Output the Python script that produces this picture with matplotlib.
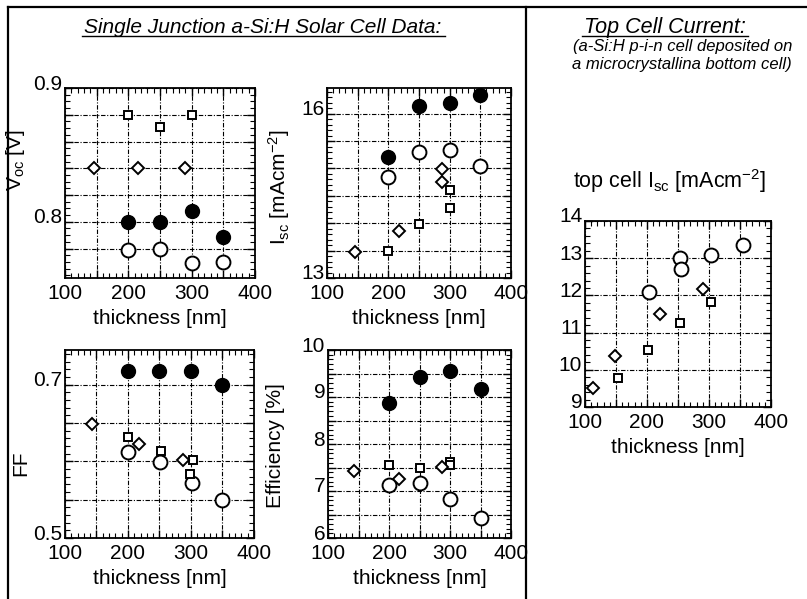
import numpy as np
import matplotlib
matplotlib.use("Agg")
import matplotlib.pyplot as plt
import matplotlib.transforms as mtransforms
from matplotlib.lines import Line2D
from matplotlib.ticker import FixedLocator, MultipleLocator

plt.rcParams['font.family'] = ['Liberation Sans', 'DejaVu Sans']
plt.rcParams['mathtext.default'] = 'regular'

# ---- data ----
x4 = [200, 250, 300, 350]

voc_filled = [0.800, 0.800, 0.808, 0.789]
voc_open = [0.779, 0.780, 0.769, 0.770]
voc_sq_x = [200, 250, 300]
voc_sq = [0.880, 0.871, 0.880]
voc_dia_x = [145, 215, 290]
voc_dia = [0.840, 0.840, 0.840]

isc_filled = [15.21, 16.15, 16.20, 16.35]
isc_open = [14.84, 15.31, 15.33, 15.04]
isc_sq_x = [200, 250, 300, 300]
isc_sq = [13.50, 13.98, 14.61, 14.28]
isc_dia_x = [145, 218, 288, 287]
isc_dia = [13.47, 13.85, 14.99, 14.75]

ff_filled = [0.718, 0.718, 0.718, 0.699]
ff_open_x = [200, 251, 301, 350]
ff_open = [0.6125, 0.599, 0.572, 0.549]
ff_sq_x = [200, 253, 303, 299]
ff_sq = [0.631, 0.613, 0.601, 0.584]
ff_dia_x = [143, 218, 288]
ff_dia = [0.648, 0.622, 0.601]

eff_filled = [8.87, 9.43, 9.56, 9.18]
eff_open = [7.13, 7.18, 6.83, 6.43]
eff_sq_x = [200, 250, 300, 300]
eff_sq = [7.55, 7.48, 7.62, 7.55]
eff_dia_x = [142, 216, 287]
eff_dia = [7.43, 7.26, 7.52]

top_open_x = [204, 254, 255, 304, 355]
top_open = [12.08, 13.00, 12.71, 13.09, 13.35]
top_dia_x = [113, 148, 221, 291]
top_dia = [9.52, 10.38, 11.51, 12.18]
top_sq_x = [153, 202, 254, 304]
top_sq = [9.78, 10.52, 11.27, 11.82]

W, H = 807, 599
fig = plt.figure(figsize=(W / 100, H / 100), dpi=100)


def box(l, t, r, b):
    # pixel box -> figure fraction
    return [l / W, 1 - b / H, (r - l) / W, (b - t) / H]


def setup(ax, ylim, yticks, ylabels, yminor):
    ax.set_xlim(100, 400)
    ax.set_ylim(*ylim)
    ax.xaxis.set_major_locator(FixedLocator([100, 150, 200, 250, 300, 350, 400]))
    ax.set_xticklabels(['100', '', '200', '', '300', '', '400'])
    ax.xaxis.set_minor_locator(MultipleLocator(10))
    ax.yaxis.set_major_locator(FixedLocator(yticks))
    ax.set_yticklabels(ylabels)
    ax.yaxis.set_minor_locator(MultipleLocator(yminor))
    ax.tick_params(which='both', direction='in', top=True, right=True,
                   labelsize=15, pad=2, width=1)
    ax.tick_params(axis='x', which='both', pad=4.5)
    ax.tick_params(which='major', length=6)
    ax.tick_params(which='minor', length=3.5, width=0.8)
    # y labels in the original sit a few pixels above their ticks
    up = mtransforms.ScaledTranslation(0, 0.06, fig.dpi_scale_trans)
    for t in ax.yaxis.get_major_ticks():
        t.label1.set_transform(t.label1.get_transform() + up)
    ax.grid(True, which='major', color='black', lw=0.8,
            linestyle=(0, (4, 1.5, 1, 1.5)))
    for s in ax.spines.values():
        s.set_linewidth(1.3)
    ax.set_xlabel('thickness [nm]', fontsize=15, labelpad=4)


def points(ax, fx, fy, ox, oy, sx, sy, dx, dy):
    kw = dict(linestyle='none', zorder=5)
    if fx is not None:
        ax.plot(fx, fy, 'o', ms=10, color='black', **kw)
    ax.plot(ox, oy, 'o', ms=10, mfc='white', mec='black', mew=1.4, **kw)
    ax.plot(sx, sy, 's', ms=6, mfc='white', mec='black', mew=1.4, **kw)
    ax.plot(dx, dy, 'D', ms=6.5, mfc='white', mec='black', mew=1.4, **kw)


# V_oc
ax1 = fig.add_axes(box(65, 88, 255, 278))
setup(ax1, (0.758, 0.9), [0.78, 0.8, 0.82, 0.84, 0.86, 0.88, 0.9],
      ['', '0.8', '', '', '', '', '0.9'], 0.005)
points(ax1, x4, voc_filled, x4, voc_open, voc_sq_x, voc_sq, voc_dia_x, voc_dia)
ax1.set_ylabel('$V_{oc}$ [V]', fontsize=15)
ax1.yaxis.set_label_coords(-0.2, 0.62)

# I_sc
ax2 = fig.add_axes(box(327, 88, 511, 278))
setup(ax2, (13, 16.47), [13, 13.5, 14, 14.5, 15, 15.5, 16],
      ['13', '', '', '', '', '', '16'], 0.1)
points(ax2, x4, isc_filled, x4, isc_open, isc_sq_x, isc_sq, isc_dia_x, isc_dia)
ax2.set_ylabel('$I_{sc}$ [mAcm$^{-2}$]', fontsize=15)
ax2.yaxis.set_label_coords(-0.19, 0.48)

# FF
ax3 = fig.add_axes(box(65, 350, 254, 538))
setup(ax3, (0.5, 0.745), [0.5, 0.55, 0.6, 0.65, 0.7],
      ['0.5', '', '', '', '0.7'], 0.01)
points(ax3, x4, ff_filled, ff_open_x, ff_open, ff_sq_x, ff_sq, ff_dia_x, ff_dia)
ax3.set_ylabel('FF', fontsize=15)
ax3.yaxis.set_label_coords(-0.184, 0.40)

# Efficiency
ax4 = fig.add_axes(box(328, 350, 511, 538))
setup(ax4, (6, 10), np.arange(6, 10.01, 0.5),
      ['6', '', '7', '', '8', '', '9', '', '10'], 0.1)
points(ax4, x4, eff_filled, x4, eff_open, eff_sq_x, eff_sq, eff_dia_x, eff_dia)
ax4.set_ylabel('Efficiency [%]', fontsize=15)
ax4.yaxis.set_label_coords(-0.235, 0.49)

# top cell
ax5 = fig.add_axes(box(585, 221, 771, 407))
setup(ax5, (9, 14), [9, 10, 11, 12, 13, 14],
      ['9', '10', '11', '12', '13', '14'], 0.2)
points(ax5, None, None, top_open_x, top_open, top_sq_x, top_sq, top_dia_x, top_dia)
fig.text(670 / W, 1 - 181 / H, 'top cell $I_{sc}$ [mAcm$^{-2}$]', fontsize=15.5,
         ha='center', va='center')

# headings
fig.text(263 / W, 1 - 33 / H, 'Single Junction a-Si:H Solar Cell Data:',
         fontsize=15, style='italic', ha='center', va='baseline')
fig.add_artist(Line2D([82 / W, 445 / W], [1 - 36 / H, 1 - 36 / H], color='black', lw=1))
fig.text(665 / W, 1 - 33 / H, 'Top Cell Current:',
         fontsize=15.5, style='italic', ha='center', va='baseline')
fig.add_artist(Line2D([582 / W, 748 / W], [1 - 36 / H, 1 - 36 / H], color='black', lw=1))
fig.text(683 / W, 1 - 47 / H, '(a-Si:H p-i-n cell deposited on',
         fontsize=12, style='italic', ha='center', va='center')
fig.text(682 / W, 1 - 65 / H, 'a microcrystallina bottom cell)',
         fontsize=12, style='italic', ha='center', va='center')

# frame lines
fig.add_artist(Line2D([8 / W, 1], [1 - 7 / H, 1 - 7 / H], color='black', lw=1.6))
fig.add_artist(Line2D([8 / W, 8 / W], [0, 1 - 7 / H], color='black', lw=1.6))
fig.add_artist(Line2D([526 / W, 526 / W], [0, 1 - 7 / H], color='black', lw=1.6))

fig.savefig('out.png', dpi=100)
